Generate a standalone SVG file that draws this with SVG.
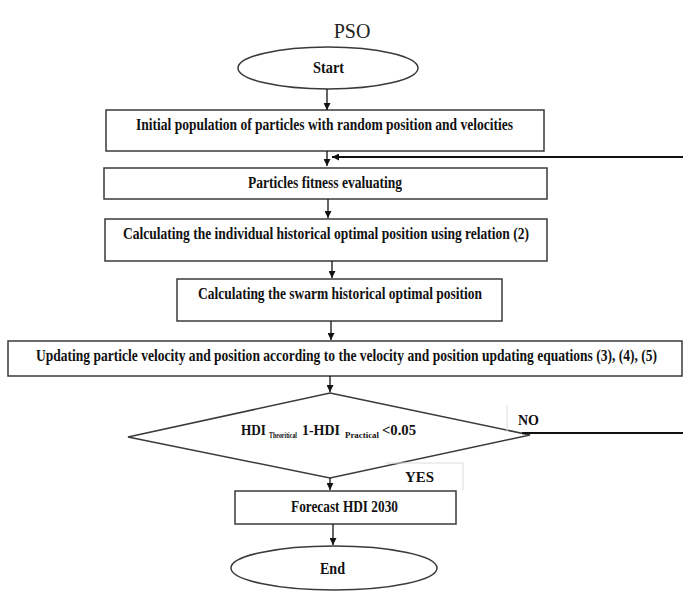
<svg xmlns="http://www.w3.org/2000/svg" width="683" height="593" viewBox="0 0 683 593">
<style>
.shape{fill:#fff;stroke:#3a3a3a;stroke-width:1.5}
.t{font-family:"Liberation Serif","Times New Roman",serif;font-weight:bold;font-size:16.5px;fill:#111}
.d{font-family:"Liberation Serif","Times New Roman",serif;font-weight:bold;font-size:14.5px;fill:#111}
.title{font-family:"Liberation Serif","Times New Roman",serif;font-size:20px;fill:#222}
.sub{font-family:"Liberation Serif","Times New Roman",serif;font-weight:bold;font-size:8px;fill:#111}
.conn{stroke:#111;stroke-width:1.3;fill:none}
.thick{stroke:#111;stroke-width:2.2;fill:none}
.faint{stroke:#dcdcdc;stroke-width:1;fill:none}
</style>
<defs>
<marker id="ah" viewBox="0 0 10 10" refX="10" refY="5" markerWidth="7" markerHeight="7" markerUnits="userSpaceOnUse" orient="auto">
<path d="M0,0 L10,5 L0,10 z" fill="#111"/>
</marker>
</defs>
<text class="title" x="352" y="38" text-anchor="middle">PSO</text>
<g id="start">
<ellipse class="shape" cx="328" cy="68" rx="90" ry="21"/>
<text class="t" x="313" y="73" textLength="31" lengthAdjust="spacingAndGlyphs">Start</text>
</g>
<g id="init">
<rect class="shape" x="106" y="110" width="438" height="41"/>
<text class="t" x="136" y="130" textLength="377" lengthAdjust="spacingAndGlyphs">Initial population of particles with random position and velocities</text>
</g>
<g id="fitness">
<rect class="shape" x="104" y="168" width="443" height="31"/>
<text class="t" x="248" y="188" textLength="154" lengthAdjust="spacingAndGlyphs">Particles fitness evaluating</text>
</g>
<g id="individual">
<rect class="shape" x="105" y="219" width="442" height="42"/>
<text class="t" x="123" y="239" textLength="406" lengthAdjust="spacingAndGlyphs">Calculating the individual historical optimal position using relation (2)</text>
</g>
<g id="swarm">
<rect class="shape" x="177" y="279" width="325" height="42"/>
<text class="t" x="198" y="299" textLength="284" lengthAdjust="spacingAndGlyphs">Calculating the swarm historical optimal position</text>
</g>
<g id="update">
<rect class="shape" x="8" y="341" width="674" height="35"/>
<text class="t" x="36" y="361" textLength="621" lengthAdjust="spacingAndGlyphs">Updating particle velocity and position according to the velocity and position updating equations (3), (4), (5)</text>
</g>
<g id="decision">
<polygon class="shape" points="330,393 530,435 330,478 128,437"/>
<text class="d" x="241" y="435" textLength="25" lengthAdjust="spacingAndGlyphs">HDI</text>
<text class="sub" x="269" y="438" textLength="28" lengthAdjust="spacingAndGlyphs">Theoritical</text>
<text class="d" x="302" y="435" textLength="38" lengthAdjust="spacingAndGlyphs">1-HDI</text>
<text class="sub" x="345" y="438" textLength="34" lengthAdjust="spacingAndGlyphs">Practical</text>
<text class="d" x="382" y="435" textLength="34" lengthAdjust="spacingAndGlyphs">&lt;0.05</text>
</g>
<g id="forecast">
<rect class="shape" x="235" y="491" width="221" height="33"/>
<text class="t" x="291" y="512" textLength="107" lengthAdjust="spacingAndGlyphs">Forecast HDI 2030</text>
</g>
<g id="end">
<ellipse class="shape" cx="334" cy="568" rx="103" ry="22"/>
<text class="t" x="320" y="574" textLength="25" lengthAdjust="spacingAndGlyphs">End</text>
</g>
<g id="labels">
<path class="faint" d="M507,405 V432"/>
<text class="d" x="518" y="425" textLength="21" lengthAdjust="spacingAndGlyphs">NO</text>
<path class="faint" d="M385,463 H463 V490"/>
<text class="d" x="405" y="482" textLength="29" lengthAdjust="spacingAndGlyphs">YES</text>
</g>
<g id="connectors">
<path class="conn" d="M327,89 V110" marker-end="url(#ah)"/>
<path class="conn" d="M327,151 V166" marker-end="url(#ah)"/>
<path class="thick" d="M683,157 H332" marker-end="url(#ah)"/>
<path class="conn" d="M328,199 V218" marker-end="url(#ah)"/>
<path class="conn" d="M332,261 V278" marker-end="url(#ah)"/>
<path class="conn" d="M331,321 V340" marker-end="url(#ah)"/>
<path class="conn" d="M330,376 V392" marker-end="url(#ah)"/>
<path class="conn" d="M330,478 V490" marker-end="url(#ah)"/>
<path class="conn" d="M333,524 V545" marker-end="url(#ah)"/>
<path class="thick" d="M522,433 H683"/>
</g>
</svg>
